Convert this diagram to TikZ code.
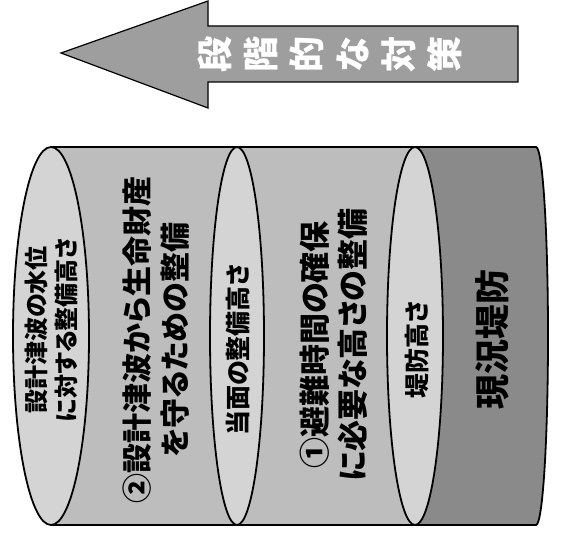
\documentclass[tikz,border=0pt]{standalone}
\usepackage{fontspec}
\setmainfont{Noto Sans CJK JP}[RawFeature=+palt]
\usepackage{tikz}
\usetikzlibrary{positioning}

\definecolor{arrowgray}{gray}{0.62}
\definecolor{facegray}{gray}{0.83}
\definecolor{bodygray}{gray}{0.74}
\definecolor{darkgray}{gray}{0.54}

\begin{document}
\begin{tikzpicture}[x=1pt,y=1pt]
\tikzstyle{every node}+=[inner sep=0pt]
\tikzstyle{cyltext}=[rotate=90, align=center, text=black]
\useasboundingbox (0,0) rectangle (566,533);
% arrow
\draw [black, line width=1.2pt, fill=arrowgray] (61,480) -- (208,532) -- (208,507) -- (518,507) -- (518,451) -- (208,451) -- (208,425) -- cycle;
\node (title) [rotate=90, align=center, text=white, font=\fontsize{36}{46}\selectfont\bfseries] at (330,478) {段\\階\\的\\な\\対\\策};
% bodies
\fill [darkgray] (415,386) -- (536,386) arc[start angle=90, end angle=-90, x radius=12, y radius=189] -- (415,8) -- cycle;
\fill [bodygray] (237,386) -- (415,386) -- (415,8) -- (237,8) arc[start angle=270, end angle=90, x radius=27, y radius=189] -- cycle;
\fill [bodygray] (51,386) -- (237,386) -- (237,8) -- (51,8) arc[start angle=270, end angle=90, x radius=38, y radius=189] -- cycle;
\draw [black, line width=1.8pt] (51,386) -- (536,386) arc[start angle=90, end angle=-90, x radius=12, y radius=189] -- (51,8);
% faces
\draw [black, line width=1.8pt, fill=facegray] (51,197) ellipse [x radius=38, y radius=189];
\draw [black, line width=1.8pt, fill=facegray] (237,197) ellipse [x radius=27, y radius=189];
\draw [black, line width=1.8pt, fill=facegray] (415,197) ellipse [x radius=28, y radius=189];
% texts
\node (designlevel) [cyltext, font=\fontsize{24}{30}\selectfont\bfseries] at (51,203) {設計津波の水位\\に対する整備高さ};
\node (stepTwo) [cyltext, font=\fontsize{30}{38}\selectfont\bfseries] at (156,193) {②設計津波から生命財産\\を守るための整備};
\node (presentlevel) [cyltext, font=\fontsize{25}{30}\selectfont\bfseries] at (238,183) {当面の整備高さ};
\node (stepOne) [cyltext, font=\fontsize{31}{38}\selectfont\bfseries] at (334,188) {①避難時間の確保\\に必要な高さの整備};
\node (dikelevel) [cyltext, font=\fontsize{25}{30}\selectfont\bfseries] at (417,183) {堤防高さ};
\node (currentdike) [cyltext, font=\fontsize{35}{40}\selectfont\bfseries] at (492,193) {現況堤防};
\end{tikzpicture}
\end{document}
